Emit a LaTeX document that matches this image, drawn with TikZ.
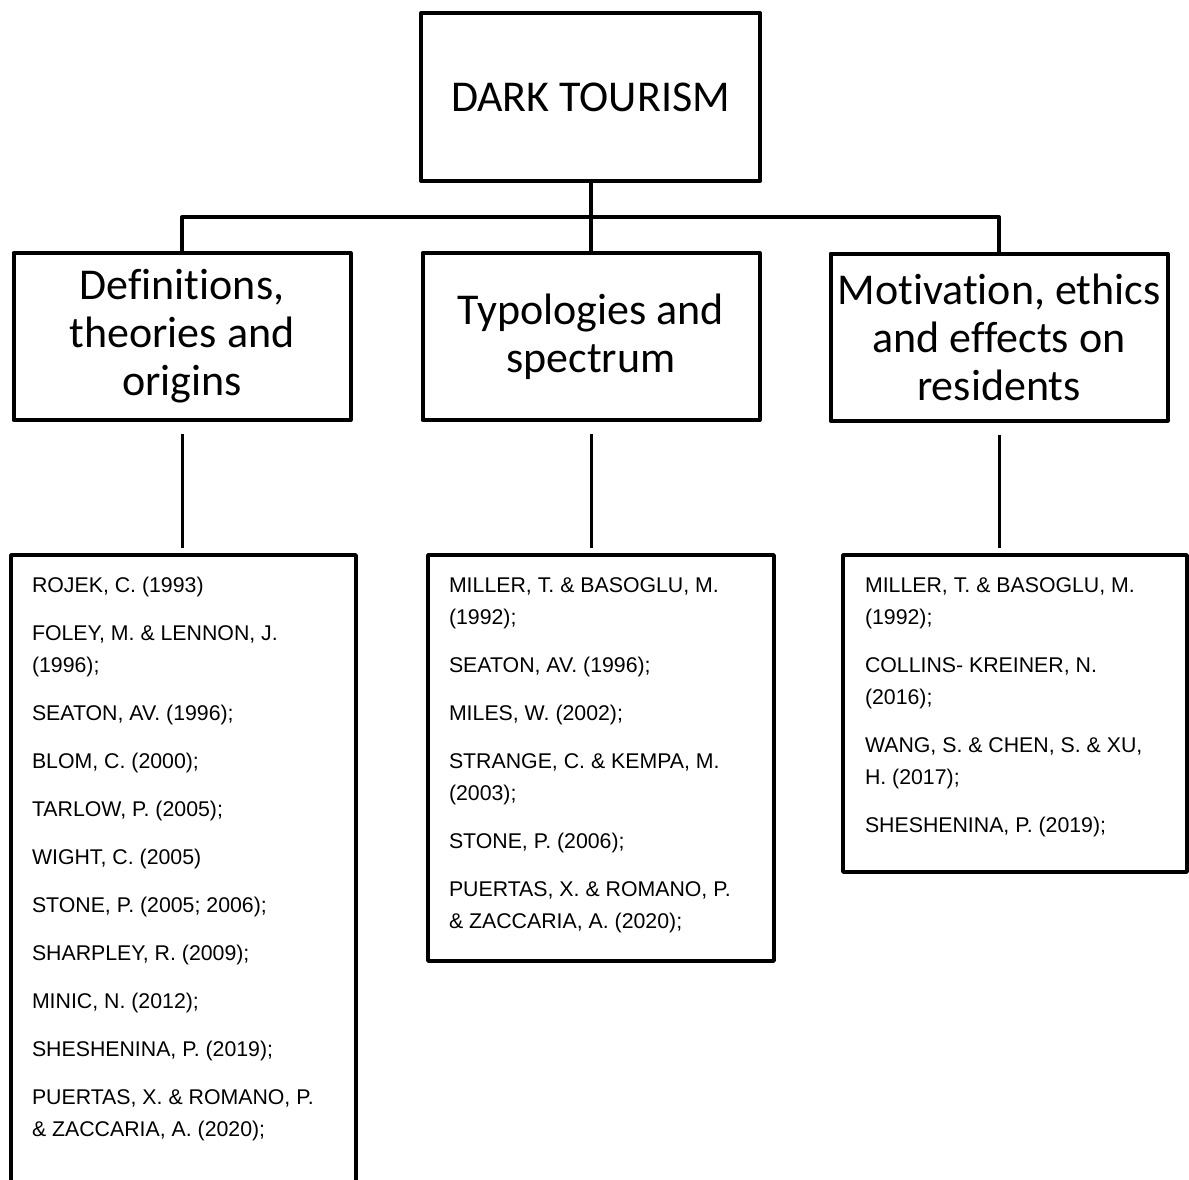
\documentclass[tikz,border=0pt]{standalone}
\usepackage{fontspec}
\setmainfont{Carlito}[Ligatures=CommonOff]
\newfontfamily\reffont{Liberation Sans}
\newcommand{\reflist}[3]{\parbox[t][#2][t]{#1}{\reffont\fontsize{21.3pt}{32pt}\selectfont\raggedright\rule{0pt}{37pt}#3}}

\begin{document}
\begin{tikzpicture}[x=1pt,y=-1pt,line join=round,
    topbox/.style={draw,line width=4pt,outer sep=0pt,inner sep=0pt,
        minimum width=339pt,minimum height=168pt,font=\fontsize{44pt}{48pt}\selectfont},
    catbox/.style={draw,line width=4pt,outer sep=0pt,inner sep=0pt,align=center,
        minimum width=337pt,minimum height=167pt,font=\fontsize{44pt}{48pt}\selectfont},
    litbox/.style={draw,line width=3.5pt,outer sep=0pt,inner sep=0pt,anchor=north west},
    link/.style={line width=4pt},
    sublink/.style={line width=3pt,shorten <=14pt,shorten >=7pt}]
        \def\ylit{555}
        \def\gap{\\[16pt]}

        \useasboundingbox (0,0) rectangle (1189,1180);

        \node[topbox] (dark) at (590.5,97) {DARK TOURISM};

        \node[catbox] (defs) at (182,336.5) {Definitions,\\theories and\\origins};
        \node[catbox] (types) at (591,336.5) {Typologies and\\spectrum};
        \node[catbox] (motiv) at (999,337) {Motivation, ethics\\and effects on\\residents};

        \coordinate (bar) at (591,217);
        \draw[link] (dark.south) -- (dark.south |- types.north);
        \draw[link] (defs.north) |- (bar) -| (motiv.north);

        \node[litbox,minimum width=345pt] (lit1) at (11,\ylit) {\reflist{303pt}{645pt}{%
            ROJEK, C. (1993)\gap
            FOLEY, M. \& LENNON, J.\\(1996);\gap
            SEATON, AV. (1996);\gap
            BLOM, C. (2000);\gap
            TARLOW, P. (2005);\gap
            WIGHT, C. (2005)\gap
            STONE, P. (2005; 2006);\gap
            SHARPLEY, R. (2009);\gap
            MINIC, N. (2012);\gap
            SHESHENINA, P. (2019);\gap
            PUERTAS, X. \& ROMANO, P.\\\& ZACCARIA, A. (2020);}};
        \node[litbox,minimum width=346pt] (lit2) at (428,\ylit) {\reflist{304pt}{406pt}{%
            MILLER, T. \& BASOGLU, M.\\(1992);\gap
            SEATON, AV. (1996);\gap
            MILES, W. (2002);\gap
            STRANGE, C. \& KEMPA, M.\\(2003);\gap
            STONE, P. (2006);\gap
            PUERTAS, X. \& ROMANO, P.\\\& ZACCARIA, A. (2020);}};
        \node[litbox,minimum width=344pt] (lit3) at (843,\ylit) {\reflist{300pt}{317pt}{%
            MILLER, T. \& BASOGLU, M.\\(1992);\gap
            COLLINS- KREINER, N.\\(2016);\gap
            WANG, S. \& CHEN, S. \& XU,\\H. (2017);\gap
            SHESHENINA, P. (2019);}};

        \draw[sublink] (defs.south) -- (defs.south |- lit1.north);
        \draw[sublink] (types.south) -- (types.south |- lit2.north);
        \draw[sublink] (motiv.south) -- (motiv.south |- lit3.north);
    \end{tikzpicture}
\end{document}
